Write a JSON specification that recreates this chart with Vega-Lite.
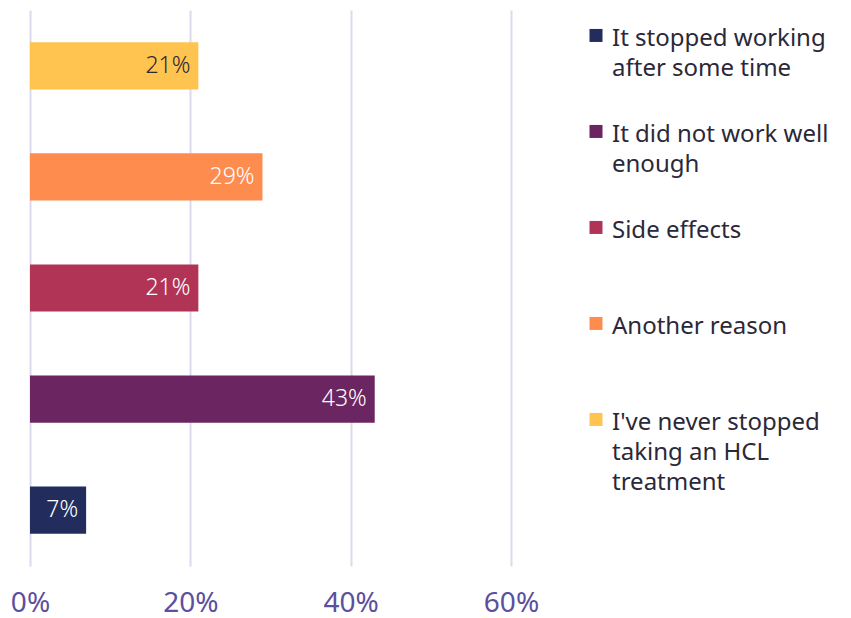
{
  "$schema": "https://vega.github.io/schema/vega-lite/v6.json",
  "autosize": "none",
  "padding": {"left": 30, "top": 10, "right": 340, "bottom": 52},
  "width": 481,
  "height": 556,
  "background": "white",
  "config": {
    "view": {"stroke": null},
    "font": "Noto Sans",
    "style": {"guide-label": {"lineHeight": 30}}
  },
  "data": {
    "values": [
      {"reason": "It stopped working after some time", "pct": 0.07},
      {"reason": "It did not work well enough", "pct": 0.43},
      {"reason": "Side effects", "pct": 0.21},
      {"reason": "Another reason", "pct": 0.29},
      {"reason": "I've never stopped taking an HCL treatment", "pct": 0.21}
    ]
  },
  "encoding": {
    "y": {
      "field": "reason",
      "type": "nominal",
      "sort": ["I've never stopped taking an HCL treatment", "Another reason", "Side effects", "It did not work well enough", "It stopped working after some time"],
      "axis": null,
      "scale": {"paddingInner": 0.575, "paddingOuter": 0.29}
    },
    "x": {
      "field": "pct",
      "type": "quantitative",
      "scale": {"domain": [0, 0.6]},
      "axis": {
        "title": null,
        "values": [0, 0.2, 0.4, 0.6],
        "format": ".0%",
        "grid": true,
        "gridColor": "#dcdaec",
        "gridWidth": 2,
        "domain": false,
        "ticks": false,
        "labelFlush": false,
        "labelFontSize": 28,
        "labelLineHeight": 28,
        "labelColor": "#5b4f9e",
        "labelPadding": 23,
        "labelFont": "Noto Sans"
      }
    }
  },
  "layer": [
    {
      "mark": {"type": "bar"},
      "encoding": {
        "color": {
          "field": "reason",
          "type": "nominal",
          "sort": ["It stopped working after some time", "It did not work well enough", "Side effects", "Another reason", "I've never stopped taking an HCL treatment"],
          "scale": {
            "domain": ["It stopped working after some time", "It did not work well enough", "Side effects", "Another reason", "I've never stopped taking an HCL treatment"],
            "range": ["#222d5e", "#6b2560", "#b13456", "#fe8c4f", "#fec44f"]
          },
          "legend": {
            "title": null,
            "orient": "none",
            "legendX": 554,
            "legendY": 5,
            "symbolType": "M-1,0.3H1V2.3H-1Z",
            "symbolSize": 169,
            "symbolStrokeWidth": 0,
            "labelFontSize": 24,
            "labelColor": "#2b2838",
            "labelFont": "Noto Sans",
            "labelOffset": 4,
            "labelLimit": 300,
            "labelBaseline": "top",
            "gridAlign": "all",
            "rowPadding": 0,
            "labelExpr": "datum.value == 'It stopped working after some time' ? ['It stopped working', 'after some time'] : datum.value == 'It did not work well enough' ? ['It did not work well', 'enough'] : datum.value == 'Side effects' ? 'Side effects' : datum.value == 'Another reason' ? 'Another reason' : [\"I've never stopped\", 'taking an HCL', 'treatment']"
          }
        }
      }
    },
    {
      "mark": {"type": "text", "align": "right", "baseline": "middle", "dx": -8, "fontSize": 23, "fontWeight": 300, "font": "Noto Sans"},
      "encoding": {
        "text": {"field": "pct", "type": "quantitative", "format": ".0%"},
        "detail": {"field": "reason"},
        "color": {
          "condition": {"test": "datum.reason == \"I've never stopped taking an HCL treatment\"", "value": "#2b2838"},
          "value": "#ffffff"
        }
      }
    }
  ]
}
